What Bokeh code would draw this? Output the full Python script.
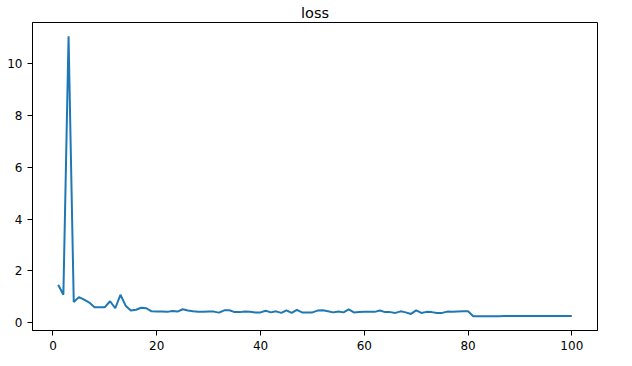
from bokeh.plotting import figure
from bokeh.models import Range1d, FixedTicker
from bokeh.embed import file_html
from bokeh.resources import INLINE

epochs = list(range(1, 101))
loss = [
    1.47, 1.08, 11.07, 0.80, 0.99, 0.89, 0.78, 0.60, 0.60, 0.60,
    0.83, 0.56, 1.08, 0.66, 0.47, 0.50, 0.58, 0.56, 0.44, 0.43,
    0.43, 0.42, 0.45, 0.43, 0.52, 0.47, 0.44, 0.42, 0.42, 0.43,
    0.43, 0.39, 0.48, 0.48, 0.41, 0.41, 0.43, 0.42, 0.40, 0.40,
    0.46, 0.40, 0.44, 0.38, 0.48, 0.38, 0.50, 0.40, 0.40, 0.40,
    0.47, 0.48, 0.44, 0.40, 0.43, 0.40, 0.52, 0.40, 0.41, 0.42,
    0.42, 0.42, 0.47, 0.41, 0.41, 0.38, 0.44, 0.40, 0.34, 0.48,
    0.38, 0.42, 0.41, 0.38, 0.38, 0.43, 0.42, 0.43, 0.44, 0.44,
    0.25, 0.25, 0.25, 0.25, 0.25, 0.25, 0.26, 0.26, 0.26, 0.26,
    0.26, 0.26, 0.26, 0.26, 0.26, 0.26, 0.26, 0.26, 0.26, 0.26,
]
x_ticks = [0, 20, 40, 60, 80, 100]
y_ticks = [0, 2, 4, 6, 8, 10]
title_text = "loss"

FONT = "DejaVu Sans"

p = figure(width=632, height=366, output_backend="svg", toolbar_location=None,
           x_range=Range1d(-3.95, 104.95), y_range=Range1d(-0.30, 11.6),
           min_border_left=32, min_border_right=35, min_border_top=22, min_border_bottom=36)

p.title.text = title_text
p.title.align = "center"
p.title.text_font = FONT
p.title.text_font_size = "14.5px"
p.title.text_font_style = "normal"
p.title.text_color = "black"
p.title.offset = 0
p.title.standoff = 3

p.line(epochs, loss, line_color="#1f77b4", line_width=2)

p.xgrid.visible = False
p.ygrid.visible = False
p.outline_line_color = "black"
p.outline_line_width = 1
p.outline_line_alpha = 1
p.background_fill_color = "white"
p.border_fill_color = "white"

p.xaxis.ticker = FixedTicker(ticks=x_ticks)
p.yaxis.ticker = FixedTicker(ticks=y_ticks)
for ax in (p.xaxis[0], p.yaxis[0]):
    ax.minor_tick_line_color = None
    ax.major_tick_in = 0
    ax.major_tick_out = 5
    ax.major_tick_line_color = "black"
    ax.axis_line_color = "black"
    ax.major_label_text_font = FONT
    ax.major_label_text_font_size = "12px"
    ax.major_label_text_color = "black"
    ax.major_label_standoff = 5

out = file_html(p, INLINE)
open("out.html", "w").write(out)
